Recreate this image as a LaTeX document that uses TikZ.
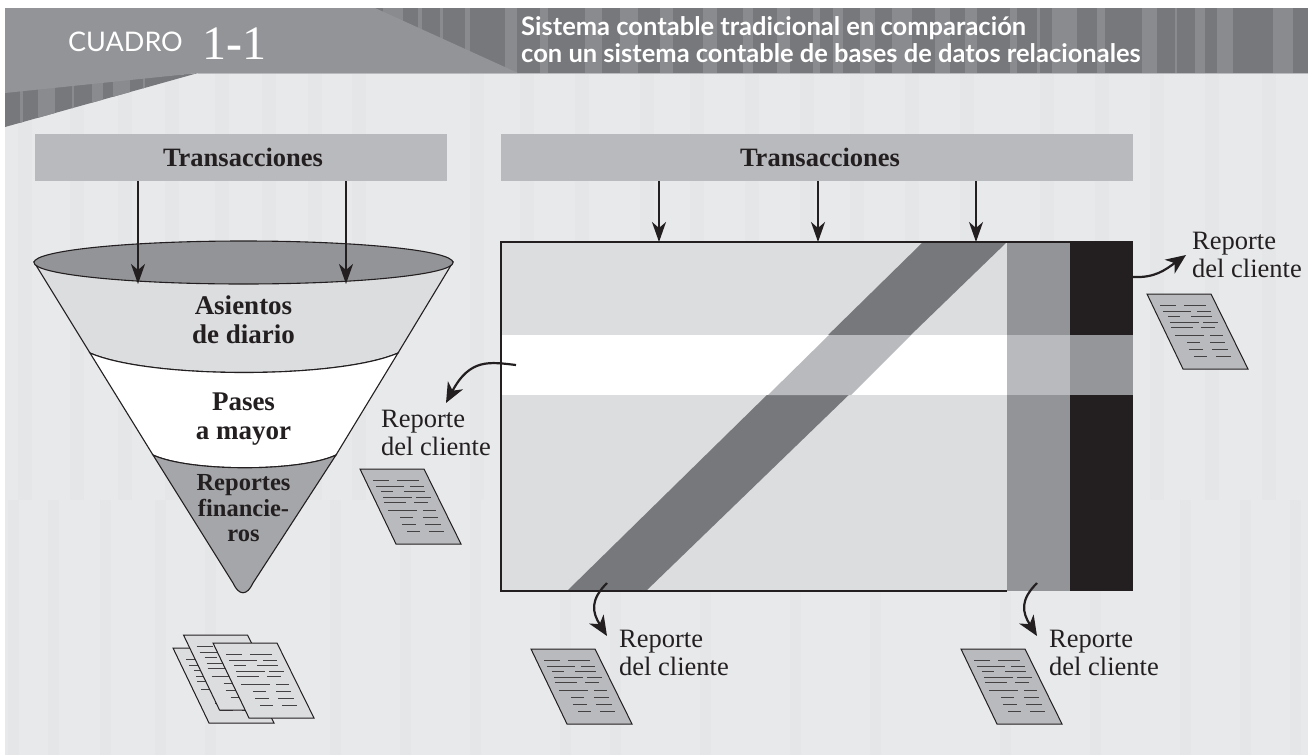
\documentclass[tikz,border=0pt]{standalone}
\usepackage{fontspec}
\setmainfont{Liberation Serif}
\newfontfamily\headfont{Lato}
\usetikzlibrary{arrows.meta}
\definecolor{fondo}{HTML}{E8E9EB}
\definecolor{rayafondo}{HTML}{E5E6E8}
\definecolor{claro}{HTML}{DCDDDF}
\definecolor{caja}{HTML}{B9BABD}
\definecolor{medio}{HTML}{939497}
\definecolor{embudo}{HTML}{A5A6A9}
\definecolor{oscuro}{HTML}{77787B}
\definecolor{rayaclara}{HTML}{8A8B8E}
\definecolor{negro}{HTML}{231F20}
\tikzset{
  rotulo/.style={inner sep=0pt,text depth=0pt,align=center,anchor=south,text=negro,font=\bfseries\fontsize{27}{29}\selectfont},
  reporte/.style={inner sep=0pt,text depth=0pt,align=left,anchor=south west,text=negro,font=\fontsize{26.5}{28}\selectfont},
  cajatrans/.style={fill=caja,minimum height=47pt,inner sep=0pt,text=negro,font=\bfseries\fontsize{26.5}{28}\selectfont},
  flechatrans/.style={line width=1.8pt,negro,-{Stealth[length=20pt,width=14pt,inset=6pt]}},
  flechacurva/.style={line width=2.2pt,negro,-{Stealth[length=20pt,width=17pt,inset=6pt]}},
  pics/hoja/.style={code={
    \draw[fill=#1,line width=1pt,negro,fill=#1](0,0)--(64,0)--(101,75)--(36,75)--cycle;
    \foreach \y/\a/\b/\c/\d in {11/13/29/37/59,17/16/44/50/64,22/21/33/44/65,28/23/52/56/71,33/24/46/54/68,41/28/57/63/76,48/40/53/63/78,55/42/56/65/81,62/47/60/69/84}
      \draw[line width=1pt,negro!85](\a,\y)--(\b,\y)(\c,\y)--(\d,\y);
  }}
}
\begin{document}
\begin{tikzpicture}[x=1pt,y=-1pt]
\useasboundingbox(0,0)rectangle(1308,755);
\fill[fondo](5,8)rectangle(1308,755);
\foreach \a in {18,70,118,165,215,262,308,352,470,520,575,640,690,745,800,850,905,960,1040,1095,1150,1205,1262}
  \fill[rayafondo](\a,73)rectangle(\a+14,500);
\foreach \a in {8,48,100,155,205,330,400,470,560,610,700,790,870,1000,1090,1180,1240,1290}
  \fill[rayafondo](\a,500)rectangle(\a+11,755);
\fill[oscuro](375,8)rectangle(1308,73);
\foreach \a/\b in {383/403,418/422,440/443,465/470,505/517,540/548,585/602,620/638,660/673,703/717,743/753,777/790,813/820,833/843,860/875,892/912,935/950,965/977,1010/1017,1037/1040,1052/1077,1097/1105,1142/1157,1175/1177,1195/1205,1217/1233,1273/1293}
  \fill[rayaclara](\a,8)rectangle(\b,73);
\fill[oscuro](5,90)--(198,73)--(5,127)--cycle;
\begin{scope}
\clip(5,90)--(198,73)--(5,127)--cycle;
\foreach \a/\b in {20/23,38/55,72/74,92/103,113/130,143/145}
  \fill[rayaclara](\a,70)rectangle(\b,130);
\end{scope}
\fill[medio](5,8)--(375,8)--(518,73)--(198,73)--(5,93)--cycle;
\fill[caja](198,73)rectangle(1308,74);
\node[inner sep=0pt,anchor=base west,text=white,font=\headfont\fontsize{27}{27}\selectfont](cuadro)at(68,51){CUADRO};
\node[inner sep=0pt,anchor=base west,text=white,font=\fontsize{48}{48}\selectfont](numero)at(202,59){1{\bfseries -}1};
\node[inner sep=0pt,text depth=0pt,anchor=south west,align=left,text=white,font=\headfont\bfseries\fontsize{25.5}{27}\selectfont](titulo)at(521,63){Sistema contable tradicional en comparación\\con un sistema contable de bases de datos relacionales};
\node[cajatrans,minimum width=412pt](transizq)at(241,157.5){\hspace*{4pt}Transacciones};
\node[cajatrans,minimum width=632pt](transder)at(817,157.5){\hspace*{6pt}Transacciones};
\coordinate(P)at(34,262);
\coordinate(Q)at(90,353);
\coordinate(R)at(398,353);
\coordinate(S)at(453,262);
\coordinate(T)at(153,455);
\coordinate(U)at(336,455);
\draw[line width=1.1pt,negro,fill=claro](P)--(Q)..controls(150,379)and(338,379)..(R)--(S)--cycle;
\draw[line width=1.1pt,negro,fill=white](Q)..controls(150,379)and(338,379)..(R)--(U)..controls(300,472)and(190,472)..(T)--cycle;
\draw[line width=1.1pt,negro,fill=embudo](T)..controls(190,472)and(300,472)..(U)--(253,583)..controls(247,596)and(239,596)..(233,583)--cycle;
\draw[line width=1.1pt,negro,fill=medio](243.5,262.5)ellipse[x radius=209.5,y radius=21.5];
\node[rotulo](asientos)at(243.5,344){Asientos\\de diario};
\node[rotulo](pases)at(243.5,440){Pases\\a mayor};
\node[rotulo,font=\bfseries\fontsize{24.5}{25.5}\selectfont](financieros)at(243.5,542){Reportes\\financie-\\ros};
\coordinate(V)at(138,284);
\coordinate(W)at(346,284);
\draw[flechatrans,line width=2.2pt](transizq.south-|V)--(V);
\draw[flechatrans,line width=2.2pt](transizq.south-|W)--(W);
\coordinate(A)at(501,242);
\coordinate(B)at(1007,242);
\coordinate(C)at(1133,242);
\coordinate(D)at(501,591);
\coordinate(E)at(1007,591);
\coordinate(F)at(1133,591);
\fill[claro](A)rectangle(E);
\fill[oscuro](923,242)--(B)--(646,591)--(567,591)--cycle;
\fill[white](501,335)rectangle(1007,395);
\fill[caja](829,335)--(911,335)--(851,395)--(768,395)--cycle;
\fill[medio](1007,242)rectangle(1070,591);
\fill[negro](1070,242)rectangle(1133,591);
\fill[caja](1007,335)rectangle(1070,395);
\fill[medio!95!caja](1070,335)rectangle(1133,395);
\draw[line width=1.2pt,negro](E)--(D)--(A)--(C);
\coordinate(G)at(659,242);
\coordinate(H)at(818,242);
\coordinate(I)at(976,242);
\draw[flechatrans](transder.south-|G)--(G);
\draw[flechatrans](transder.south-|H)--(H);
\draw[flechatrans](transder.south-|I)--(I);
\pic at(360,469){hoja=caja};
\pic at(1147,294){hoja=caja};
\pic at(531,649){hoja=caja};
\pic at(961,649){hoja=caja};
\pic at(173,648){hoja=claro};
\pic at(183.5,635){hoja=claro};
\pic at(213,643){hoja=claro};
\node[reporte](repizq)at(381,456){Reporte\\del cliente};
\node[reporte](repder)at(1192,278){Reporte\\del cliente};
\node[reporte](repabajo)at(619,676){Reporte\\del cliente};
\node[reporte](repfin)at(1049,676){Reporte\\del cliente};
\coordinate(J)at(516,365);
\coordinate(K)at(446,403);
\draw[flechacurva](J)..controls(490,362)and(470,358)..(K);
\coordinate(L)at(1133,277);
\coordinate(M)at(1186,255);
\draw[flechacurva](L)..controls(1155,278)and(1165,270)..(M);
\coordinate(N)at(607,583);
\coordinate(O)at(607,636);
\draw[flechacurva](N)..controls(590,600)and(592,612)..(O);
\coordinate(X)at(1037,583);
\coordinate(Y)at(1037,636);
\draw[flechacurva](X)..controls(1020,600)and(1022,612)..(Y);
\end{tikzpicture}
\end{document}
